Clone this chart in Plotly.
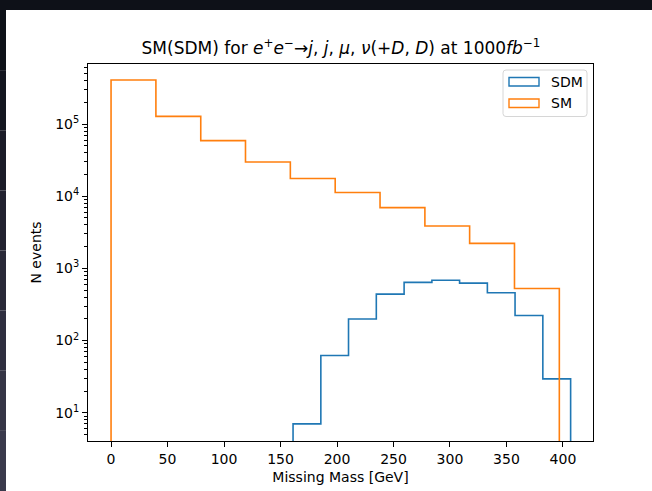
import plotly.graph_objects as go

# ---- data ----
sm_edges = [0, 39.7, 79.4, 119.0, 158.7, 198.4, 238.1, 277.8, 317.4, 357.1, 396.8]
sm_counts = [4.08e5, 1.28e5, 5.9e4, 2.99e4, 1.76e4, 1.13e4, 6.96e3, 3.87e3, 2.22e3, 527]
sdm_edges = [161.1, 185.7, 210.2, 234.8, 259.4, 284.0, 308.5, 333.1, 357.6, 382.2, 406.8]
sdm_counts = [7.0, 62, 199, 440, 640, 685, 625, 459, 222, 29.4]
x_ticks = [0, 50, 100, 150, 200, 250, 300, 350, 400]
y_ticks = [10, 100, 1000, 10000, 100000]
y_ticktext = ["10<sup>1</sup>", "10<sup>2</sup>", "10<sup>3</sup>", "10<sup>4</sup>", "10<sup>5</sup>"]
series_names = ["SDM", "SM"]

BLUE = "#1f77b4"
ORANGE = "#ff7f0e"
FONT = "DejaVu Sans"

W, H = 652, 491
L, R, T, B = 88, 59, 64, 50
PW, PH = W - L - R, H - T - B


def px(x):
    return (x - L) / PW


def py(y):
    return 1 - (y - T) / PH


def step_xy(edges, counts, floor=0.1):
    xs = [edges[0]] + list(edges)
    ys = [floor] + list(counts) + [floor]
    return xs, ys


fig = go.Figure()
for name, edges, counts, col in [
    (series_names[0], sdm_edges, sdm_counts, BLUE),
    (series_names[1], sm_edges, sm_counts, ORANGE),
]:
    xs, ys = step_xy(edges, counts)
    fig.add_trace(go.Scatter(x=xs, y=ys, mode="lines", line_shape="hv",
                             line=dict(color=col, width=1.6), name=name,
                             showlegend=False, hoverinfo="skip"))

minor_vals = [m * 10 ** e for e in range(0, 6) for m in range(2, 10)]

fig.update_layout(
    width=W, height=H,
    margin=dict(l=L, r=R, t=T, b=B, pad=0),
    paper_bgcolor="white", plot_bgcolor="white",
    font=dict(family=FONT, size=14, color="black"),
    title=dict(
        text="SM(SDM) for <i>e</i><sup>+</sup><i>e</i><sup>−</sup>→<i>j</i>, <i>j</i>, <i>μ</i>, <i>ν</i>(+<i>D</i>, <i>D</i>) at 1000<i>fb</i><sup>−1</sup>",
        xref="container", yref="container",
        x=341 / W, xanchor="center", y=1 - 54 / H, yanchor="bottom",
        font=dict(family=FONT, size=17, color="black"),
    ),
    xaxis=dict(
        range=[-20.4, 426.6], tickvals=x_ticks, ticks="outside", ticklen=5,
        tickwidth=1, tickcolor="black", showline=True, mirror=True,
        linecolor="black", linewidth=1, showgrid=False, zeroline=False,
        tickfont=dict(size=14), title=dict(text="Missing Mass [GeV]", standoff=6, font=dict(size=14)),
        automargin=False,
    ),
    yaxis=dict(
        type="log", range=[0.608, 5.833], tickvals=y_ticks, ticktext=y_ticktext,
        ticks="outside", ticklen=5, tickwidth=1, tickcolor="black",
        minor=dict(tickvals=minor_vals, ticks="outside", ticklen=3, tickwidth=1,
                   tickcolor="black", showgrid=False),
        showline=True, mirror=True, linecolor="black", linewidth=1,
        showgrid=False, zeroline=False, tickfont=dict(size=14),
        title=dict(text="N events", standoff=10, font=dict(size=14)),
        automargin=False,
    ),
    showlegend=False,
)

shapes = []
# legend frame (rounded)
lx0, ly0, lx1, ly1, rr = 503, 70, 587, 116.5, 3
path = (f"M {px(lx0+rr)},{py(ly0)} L {px(lx1-rr)},{py(ly0)} Q {px(lx1)},{py(ly0)} {px(lx1)},{py(ly0+rr)} "
        f"L {px(lx1)},{py(ly1-rr)} Q {px(lx1)},{py(ly1)} {px(lx1-rr)},{py(ly1)} "
        f"L {px(lx0+rr)},{py(ly1)} Q {px(lx0)},{py(ly1)} {px(lx0)},{py(ly1-rr)} "
        f"L {px(lx0)},{py(ly0+rr)} Q {px(lx0)},{py(ly0)} {px(lx0+rr)},{py(ly0)} Z")
shapes.append(dict(type="path", xref="paper", yref="paper", path=path,
                   fillcolor="rgba(255,255,255,0.8)", line=dict(color="#d6d6d6", width=1)))
for (y0, y1), col in [((77.5, 86), BLUE), ((99, 107.5), ORANGE)]:
    shapes.append(dict(type="rect", xref="paper", yref="paper",
                       x0=px(509), x1=px(539), y0=py(y1), y1=py(y0),
                       line=dict(color=col, width=1.4), fillcolor="rgba(0,0,0,0)"))

# dark screenshot border (top and left)
shapes.append(dict(type="rect", xref="paper", yref="paper", x0=px(0), x1=px(W), y0=py(10), y1=py(0),
                   fillcolor="#0e1118", line=dict(width=0), layer="above"))
left_cols = ["#0e1118", "#141620", "#1b1c28", "#222230", "#292938", "#2f2f40", "#353546", "#3a3a4c"]
n = len(left_cols)
for i, c in enumerate(left_cols):
    ya = 10 + (H - 10) * i / n
    yb = 10 + (H - 10) * (i + 1) / n
    shapes.append(dict(type="rect", xref="paper", yref="paper", x0=px(0), x1=px(6),
                       y0=py(yb), y1=py(ya), fillcolor=c, line=dict(width=0), layer="above"))
fig.update_layout(shapes=shapes)

annotations = []
for name, yc in [(series_names[0], 82), (series_names[1], 103.5)]:
    annotations.append(dict(text=name, xref="paper", yref="paper", x=px(549), y=py(yc),
                            xanchor="left", yanchor="middle", showarrow=False,
                            font=dict(family=FONT, size=14, color="black")))
fig.update_layout(annotations=annotations)

fig.write_html("out.html", config={"displayModeBar": False},
               post_script="document.body.style.margin='0';document.body.style.padding='0';")
